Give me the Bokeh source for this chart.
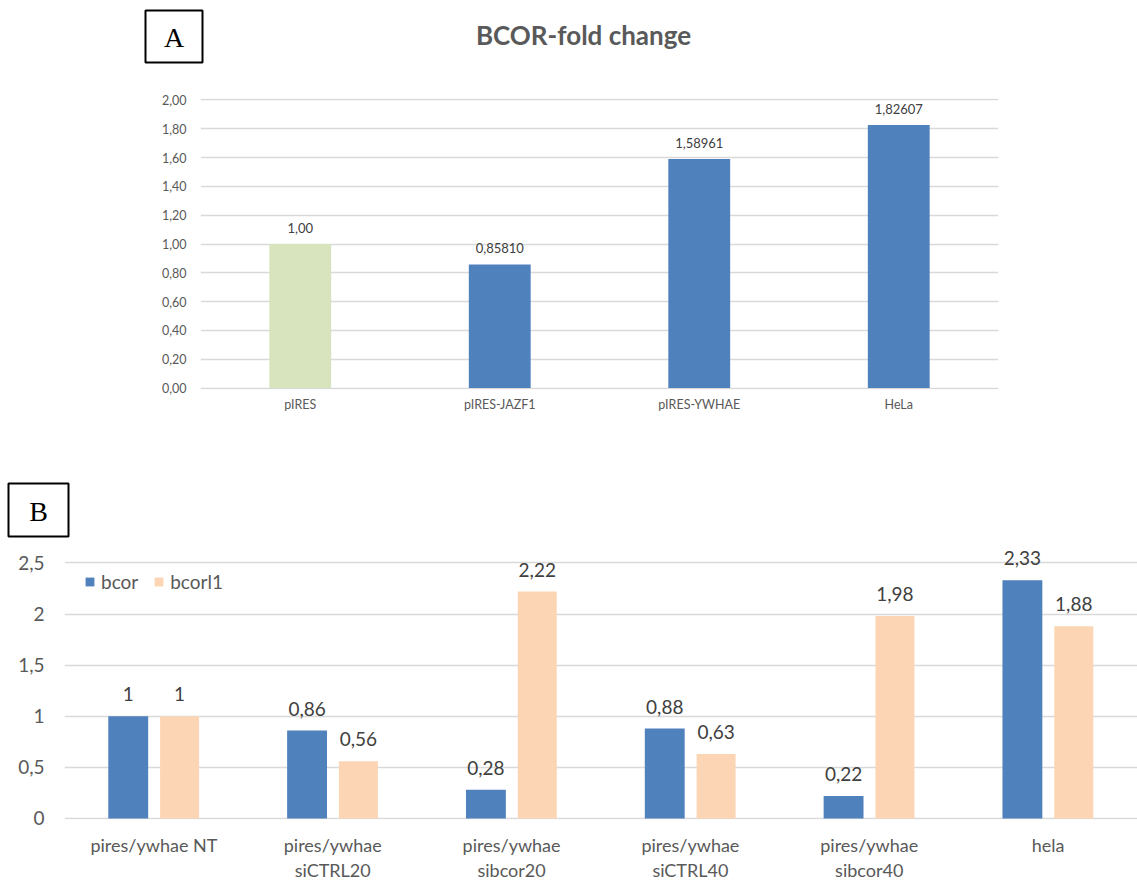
from bokeh.plotting import figure
from bokeh.models import (FactorRange, Range1d, FixedTicker, CustomJSTickFormatter,
                          ColumnDataSource, Legend, LegendItem)
from bokeh.transform import dodge
from bokeh.embed import file_html
from bokeh.resources import INLINE
from bokeh.core.properties import value

# ---------------- data ----------------
top_title = "BCOR-fold change"
top_categories = ["pIRES", "pIRES-JAZF1", "pIRES-YWHAE", "HeLa"]
top_values = [1.00, 0.85810, 1.58961, 1.82607]
top_labels = ["1,00", "0,85810", "1,58961", "1,82607"]
top_colors = ["#D7E4BD", "#4F81BD", "#4F81BD", "#4F81BD"]
top_ticks = [0.0, 0.2, 0.4, 0.6, 0.8, 1.0, 1.2, 1.4, 1.6, 1.8, 2.0]

bottom_categories = ["pires/ywhae NT", "pires/ywhae\nsiCTRL20", "pires/ywhae\nsibcor20",
                     "pires/ywhae\nsiCTRL40", "pires/ywhae\nsibcor40", "hela"]
series_names = ["bcor", "bcorl1"]
bcor = [1.0, 0.86, 0.28, 0.88, 0.22, 2.33]
bcorl1 = [1.0, 0.56, 2.22, 0.63, 1.98, 1.88]
bottom_ticks = [0, 0.5, 1, 1.5, 2, 2.5]

FONT = "Lato"
AXIS_GREY = "#595959"
LABEL_GREY = "#404040"
GRID = "#D9D9D9"
BLUE = "#4F81BD"
PEACH = "#FCD5B4"
W = 1137

def fmt(v):
    return f"{v:g}".replace(".", ",")

def header(height):
    h = figure(width=W, height=height, x_range=Range1d(0, W), y_range=Range1d(height, 0),
               x_axis_location=None, y_axis_location=None, toolbar_location=None,
               output_backend="svg", min_border=0, title=None)
    h.outline_line_color = None
    h.grid.visible = False
    return h

def panel_box(h, letter, left, top, right, bottom):
    h.quad(left=[left], right=[right], top=[top], bottom=[bottom], fill_color=None,
           line_color="black", line_width=2)
    h.text(x=[(left + right) / 2], y=[(top + bottom) / 2 + 1], text=[letter],
           text_align="center", text_baseline="middle", text_font=value("Liberation Serif"),
           text_font_size="28px", text_color="black")

# ---------------- header A ----------------
h1 = header(90)
panel_box(h1, "A", 145, 10, 202, 62)
h1.text(x=[583], y=[34], text=[top_title], text_align="center", text_baseline="middle",
        text_font=value(FONT), text_font_size="26px", text_font_style="bold",
        text_color=AXIS_GREY)

# ---------------- top chart ----------------
p1 = figure(width=W, height=364, x_range=FactorRange(*top_categories, range_padding=0),
            y_range=Range1d(-0.01, 2.01), output_backend="svg", toolbar_location=None,
            title=None, min_border_left=200, min_border_right=139, min_border_top=8,
            min_border_bottom=65)
p1.outline_line_color = None
p1.xgrid.grid_line_color = None
p1.ygrid.ticker = FixedTicker(ticks=top_ticks)
p1.ygrid.grid_line_color = GRID
p1.ygrid.grid_line_width = 1.3
p1.yaxis.ticker = FixedTicker(ticks=top_ticks)
p1.yaxis.formatter = CustomJSTickFormatter(code="return tick.toFixed(2).replace('.', ',');")
for ax in (p1.xaxis[0], p1.yaxis[0]):
    ax.axis_line_color = None
    ax.major_tick_line_color = None
    ax.minor_tick_line_color = None
    ax.major_tick_in = 0
    ax.major_tick_out = 0
    ax.major_label_text_font = FONT
    ax.major_label_text_font_size = "12.5px"
    ax.major_label_text_color = AXIS_GREY
p1.yaxis.major_label_standoff = 14
p1.xaxis.major_label_standoff = 7

src1 = ColumnDataSource(dict(cat=top_categories, val=top_values, lab=top_labels, col=top_colors))
p1.vbar(x="cat", top="val", width=0.31, source=src1, fill_color="col", line_color=None)
p1.text(x="cat", y="val", text="lab", source=src1, text_align="center", text_baseline="middle",
        y_offset=-16, text_font=value(FONT), text_font_size="13px", text_color=LABEL_GREY)

# ---------------- header B ----------------
h2 = header(86)
panel_box(h2, "B", 8, 29, 68, 82)

# ---------------- bottom chart ----------------
p2 = figure(width=W, height=344, x_range=FactorRange(*bottom_categories, range_padding=0),
            y_range=Range1d(-0.01, 2.68), output_backend="svg", toolbar_location=None,
            title=None, min_border_left=64, min_border_right=0, min_border_top=4,
            min_border_bottom=65)
p2.outline_line_color = None
p2.xgrid.grid_line_color = None
p2.ygrid.ticker = FixedTicker(ticks=bottom_ticks)
p2.ygrid.grid_line_color = GRID
p2.ygrid.grid_line_width = 1.5
p2.yaxis.ticker = FixedTicker(ticks=bottom_ticks)
p2.yaxis.formatter = CustomJSTickFormatter(code="return String(tick).replace('.', ',');")
for ax in (p2.xaxis[0], p2.yaxis[0]):
    ax.axis_line_color = None
    ax.major_tick_line_color = None
    ax.minor_tick_line_color = None
    ax.major_tick_in = 0
    ax.major_tick_out = 0
    ax.major_label_text_font = FONT
    ax.major_label_text_color = AXIS_GREY
p2.yaxis.major_label_text_font_size = "19px"
p2.xaxis.major_label_text_font_size = "18px"
p2.yaxis.major_label_standoff = 20
p2.xaxis.major_label_standoff = 14
p2.xaxis.major_label_text_line_height = 1.15

src2 = ColumnDataSource(dict(cat=bottom_categories, bcor=bcor, bcorl1=bcorl1,
                             lab_bcor=[fmt(v) for v in bcor], lab_bcorl1=[fmt(v) for v in bcorl1]))
off = 0.1436
r1 = p2.vbar(x=dodge("cat", -off, range=p2.x_range), top="bcor", width=0.223, source=src2,
             fill_color=BLUE, line_color=None)
r2 = p2.vbar(x=dodge("cat", off, range=p2.x_range), top="bcorl1", width=0.218, source=src2,
             fill_color=PEACH, line_color=None)
p2.text(x=dodge("cat", -off, range=p2.x_range), y="bcor", text="lab_bcor", source=src2,
        text_align="center", text_baseline="middle", y_offset=-22, text_font=value(FONT),
        text_font_size="19px", text_color=LABEL_GREY)
p2.text(x=dodge("cat", off, range=p2.x_range), y="bcorl1", text="lab_bcorl1", source=src2,
        text_align="center", text_baseline="middle", y_offset=-22, text_font=value(FONT),
        text_font_size="19px", text_color=LABEL_GREY)

legend = Legend(items=[LegendItem(label=series_names[0], renderers=[r1]),
                       LegendItem(label=series_names[1], renderers=[r2])],
                orientation="horizontal", location=(20, 226), glyph_width=11, glyph_height=11,
                label_text_font=FONT, label_text_font_size="19px", label_text_color=AXIS_GREY,
                label_standoff=6, spacing=15, padding=0, margin=0,
                border_line_color=None, background_fill_alpha=0)
p2.add_layout(legend)

open("out.html", "w").write(file_html([h1, p1, h2, p2], INLINE))
